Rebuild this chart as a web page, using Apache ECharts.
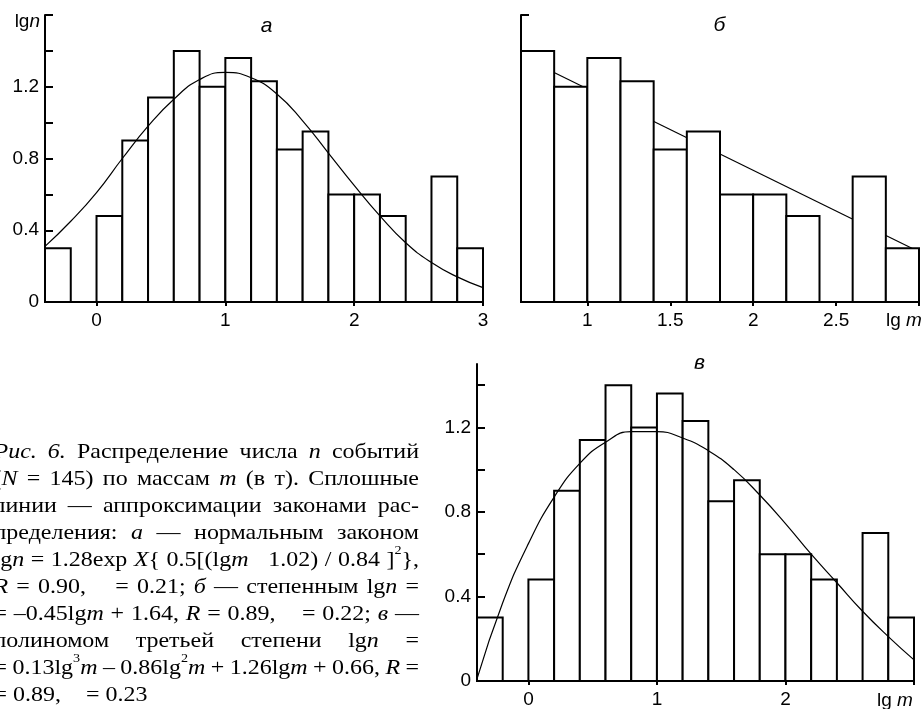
<!DOCTYPE html>
<html><head><meta charset="utf-8">
<script src="https://cdn.jsdelivr.net/npm/echarts@6/dist/echarts.min.js"></script>
<style>html,body{margin:0;padding:0;background:#fff;overflow:hidden}#c{width:924px;height:709px}</style>
</head><body><div id="c"></div>
<script>
// ---------- data ----------
const binStarts = [-0.4, -0.2, 0.0, 0.2, 0.4, 0.6, 0.8, 1.0, 1.2, 1.4, 1.6, 1.8, 2.0, 2.2, 2.4, 2.6, 2.8];
const binEnds   = [-0.2, 0.0, 0.2, 0.4, 0.6, 0.8, 1.0, 1.2, 1.4, 1.6, 1.8, 2.0, 2.2, 2.4, 2.6, 2.8, 3.0];
const lgN       = [0.30, 0.00, 0.48, 0.90, 1.14, 1.40, 1.20, 1.36, 1.23, 0.85, 0.95, 0.60, 0.60, 0.48, 0.00, 0.70, 0.30];
const curveX    = [-0.4, -0.2, 0.0, 0.2, 0.4, 0.6, 0.8, 1.0, 1.2, 1.4, 1.6, 1.8, 2.0, 2.2, 2.4, 2.6, 2.8, 3.0];
const fitNormal = [0.31, 0.45, 0.61, 0.80, 0.98, 1.13, 1.24, 1.28, 1.25, 1.16, 1.01, 0.83, 0.65, 0.48, 0.33, 0.22, 0.14, 0.08];
const fitPoly   = [0.01, 0.37, 0.65, 0.87, 1.03, 1.13, 1.18, 1.18, 1.15, 1.09, 1.00, 0.88, 0.745, 0.60, 0.465, 0.33, 0.21, 0.10];
const fitPowerX = [0.6, 3.0];
const fitPower  = [1.37, 0.28];
const panelBFrom = 0.6;

const yTickLabels  = [0, 0.4, 0.8, 1.2];
const yTicksTop    = [0, 0.2, 0.4, 0.6, 0.8, 1.0, 1.2, 1.4, 1.6];
const yTicksBottom = [0, 0.2, 0.4, 0.6, 0.8, 1.0, 1.2, 1.4];
const xLabelsA = [0, 1, 2, 3];
const xLabelsB = [1, 1.5, 2, 2.5];
const xTicksB  = [1, 1.5, 2, 2.5, 3];
const xLabelsV = [0, 1, 2];
const xTicksV  = [0, 1, 2, 3];

const panelTitles = ['а', 'б', 'в'];
const yName = 'lg_n_';
const xName = 'lg _m_';

// caption: _..._ italic, ^c superscript, #... invisible placeholder (missing glyph)
const captionLines = [
  ['_Рис._', '_6._', 'Распределение', 'числа', '_n_', 'событий'],
  ['(_N_', '=', '145)', 'по', 'массам', '_m_', '(в', 'т).', 'Сплошные'],
  ['линии', '—', 'аппроксимации', 'законами', 'рас-'],
  ['пределения:', '_а_', '—', 'нормальным', 'законом'],
  ['lg_n_', '=', '1.28exp', '_X_{', '0.5[(lg_m_', '#', '#', '1.02)', '/', '0.84', ']^2},'],
  ['_R_', '=', '0.90,', '#σ', '=', '0.21;', '_б_', '—', 'степенным', 'lg_n_', '='],
  ['=', '–0.45lg_m_', '+', '1.64,', '_R_', '=', '0.89,', '#σ', '=', '0.22;', '_в_', '—'],
  ['полиномом', 'третьей', 'степени', 'lg_n_', '='],
  ['=', '0.13lg^3_m_', '–', '0.86lg^2_m_', '+', '1.26lg_m_', '+', '0.66,', '_R_', '='],
  ['=', '0.89,', '#σ', '=', '0.23']
];

// ---------- helpers ----------
const SANS = 'Liberation Sans', SERIF = 'Liberation Serif';
const mctx = document.createElement('canvas').getContext('2d');
function measure(t, it, size, fam) {
  mctx.font = (it ? 'italic ' : '') + size + 'px "' + fam + '"';
  return mctx.measureText(t).width;
}
function parseToken(tok, size, fam, sx) {
  let hidden = false;
  if (tok[0] === '#') { hidden = true; tok = tok.slice(1); }
  const runs = []; let it = false, buf = '';
  const flush = () => { if (buf) { runs.push({ t: buf, it, sup: false }); buf = ''; } };
  for (let i = 0; i < tok.length; i++) {
    const c = tok[i];
    if (c === '_') { flush(); it = !it; continue; }
    if (c === '^') { flush(); runs.push({ t: tok[i + 1], it: false, sup: true }); i++; continue; }
    buf += c;
  }
  flush();
  runs.forEach(r => {
    r.size = r.sup ? Math.round(size * 0.6) : size;
    r.w = measure(r.t, r.it, r.size, fam) * sx;
    r.hidden = hidden;
  });
  return runs;
}
function textEl(t, x, y, size, fam, it, align, sx) {
  return { type: 'text', x: x, y: y, silent: true, z: 100, scaleX: sx || 1,
    style: { text: t, fontSize: size, fontFamily: fam, fontStyle: it ? 'italic' : 'normal',
      fill: '#000', align: align || 'left', verticalAlign: 'middle' } };
}
function layoutLine(tokens, x0, x1, y, justify, size, fam, alignRight, sx) {
  sx = sx || 1;
  const runsList = tokens.map(t => parseToken(t, size, fam, sx));
  const widths = runsList.map(rs => rs.reduce((s, r) => s + r.w, 0));
  const total = widths.reduce((a, b) => a + b, 0);
  const space = measure(' ', false, size, fam) * sx;
  const gap = justify && tokens.length > 1 ? (x1 - x0 - total) / (tokens.length - 1) : space;
  let x = alignRight ? x1 - (total + gap * (tokens.length - 1)) : x0;
  const out = [];
  runsList.forEach(rs => {
    rs.forEach(r => {
      if (!r.hidden) out.push(textEl(r.t, x, r.sup ? y - size * 0.42 : y, r.size, fam, r.it, 'left', sx));
      x += r.w;
    });
    x += gap;
  });
  return out;
}

// ---------- axes ----------
function xAx(grid, min, max, labels, ticks) {
  return { type: 'value', gridIndex: grid, min: min, max: max,
    axisLine: { show: true, onZero: false, lineStyle: { color: '#000', width: 2 } },
    axisTick: { show: true, inside: false, length: 4, customValues: ticks, lineStyle: { color: '#000', width: 2 } },
    axisLabel: { show: true, customValues: labels, margin: 9, color: '#000', fontSize: 19, fontFamily: SANS },
    splitLine: { show: false } };
}
function yAx(grid, max, labels, ticks) {
  return { type: 'value', gridIndex: grid, min: 0, max: max,
    axisLine: { show: true, onZero: false, lineStyle: { color: '#000', width: 2 } },
    axisTick: { show: true, inside: true, length: 8, customValues: ticks, lineStyle: { color: '#000', width: 2 } },
    axisLabel: { show: labels.length > 0, customValues: labels.length ? labels : [0], margin: 6, color: '#000', fontSize: 19, fontFamily: SANS },
    splitLine: { show: false } };
}
function bars(ai, idxs, z) {
  return { type: 'custom', xAxisIndex: ai, yAxisIndex: ai, z: z, silent: true,
    encode: { x: [0, 2], y: 1 },
    data: idxs.map(i => [binStarts[i], lgN[i], binEnds[i]]),
    renderItem: function (params, api) {
      const v = api.value(1);
      if (!(v > 0)) return null;
      const p0 = api.coord([api.value(0), v]);
      const p1 = api.coord([api.value(2), 0]);
      return { type: 'rect', shape: { x: p0[0], y: p0[1], width: p1[0] - p0[0], height: p1[1] - p0[1] },
        style: { fill: '#fff', stroke: '#000', lineWidth: 2 } };
    } };
}
function curve(ai, xs, ys, z, smooth) {
  return { type: 'line', xAxisIndex: ai, yAxisIndex: ai, z: z, silent: true, smooth: smooth,
    symbol: 'none', showSymbol: false,
    lineStyle: { color: '#000', width: 1.2 },
    data: xs.map((x, i) => [x, ys[i]]) };
}

const allIdx = binStarts.map((_, i) => i);
const bIdx = allIdx.filter(i => binStarts[i] >= panelBFrom - 1e-9);

// ---------- graphics ----------
const g = [];
g.push(textEl(panelTitles[0], 266.5, 26, 21, SANS, true, 'center'));
g.push(textEl(panelTitles[1], 719.5, 25.5, 21, SANS, true, 'center'));
g.push(textEl(panelTitles[2], 699.5, 363.5, 21, SANS, true, 'center'));
g.push(...layoutLine([yName], 0, 40, 22, false, 19, SANS, true));
g.push(...layoutLine(xName.split(' '), 886, 920, 320.5, false, 19, SANS, false));
g.push(...layoutLine(xName.split(' '), 877, 916, 700.5, false, 19, SANS, false));
captionLines.forEach((ln, i) => {
  g.push(...layoutLine(ln, -6.5, 419, 452.3 + i * 27, i < captionLines.length - 1, 22, SERIF, false, 1.09));
});

const chart = echarts.init(document.getElementById('c'), null, { renderer: 'canvas' });
chart.setOption({
  animation: false,
  backgroundColor: '#fff',
  grid: [
    { left: 45, top: 15, width: 438, height: 287 },
    { left: 521, top: 15, width: 398, height: 287 },
    { left: 477, top: 364, width: 437, height: 317 }
  ],
  xAxis: [
    xAx(0, -0.4, 3.0, xLabelsA, xLabelsA),
    xAx(1, 0.6, 3.0, xLabelsB, xTicksB),
    xAx(2, -0.4, 3.0, xLabelsV, xTicksV)
  ],
  yAxis: [
    yAx(0, 1.6, yTickLabels, yTicksTop),
    yAx(1, 1.6, [], yTicksTop),
    yAx(2, 1.5, yTickLabels, yTicksBottom)
  ],
  series: [
    bars(0, allIdx, 2),
    curve(0, curveX, fitNormal, 3, true),
    curve(1, fitPowerX, fitPower, 1, false),
    bars(1, bIdx, 2),
    bars(2, allIdx, 2),
    curve(2, curveX, fitPoly, 3, true)
  ],
  graphic: { elements: g }
});
</script>
</body></html>
